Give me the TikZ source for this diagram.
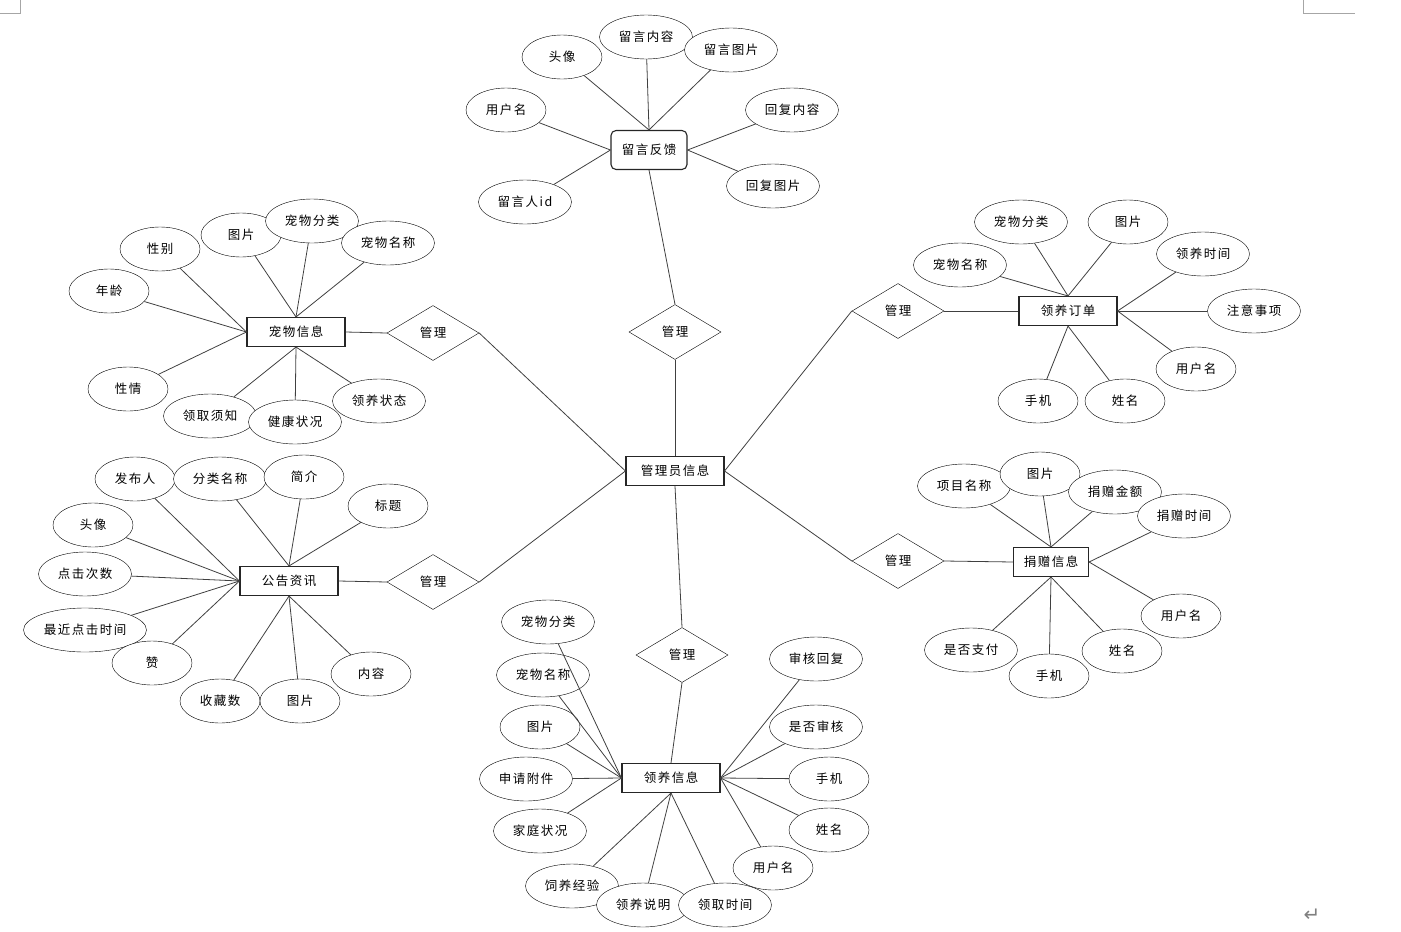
\documentclass[tikz,border=0pt]{standalone}
\usepackage{fontspec}
\setmainfont{Noto Sans CJK SC}[LetterSpace=12]
\newfontfamily\retmark{DejaVu Sans}
\usepackage{tikz}
\usetikzlibrary{shapes.geometric}

\begin{document}
\begin{tikzpicture}[x=1pt, y=-1pt,
  every node/.style={font=\fontsize{12.5}{14}\selectfont},
  ent/.style={draw=black!85, line width=1.1pt, fill=white, minimum width=98, minimum height=29, inner sep=0pt},
  attr/.style={draw, ellipse, fill=white, minimum width=80, minimum height=44, inner sep=0pt},
  attrw/.style={attr, minimum width=93},
  rel/.style={draw, diamond, fill=white, minimum width=92, minimum height=55, inner sep=0pt},
  link/.style={draw=black!75, line width=0.8pt}]
\useasboundingbox (0,0) rectangle (1401,932);
\draw[gray!70] (0,13) -- (20,13) -- (20,0);
\draw[gray!70] (1303,0) -- (1303,13) -- (1355,13);
\node[text=gray, font=\retmark\fontsize{20}{20}\selectfont] (ret) at (1312,915) {↵};

\node[ent] (adm) at (675,471) {管理员信息};
\node[ent, rounded corners=5pt, minimum width=76, minimum height=39] (ly) at (649,150) {留言反馈};
\node[ent] (cw) at (296,332) {宠物信息};
\node[ent] (dd) at (1068,311) {领养订单};
\node[ent] (gg) at (289,581) {公告资讯};
\node[ent, minimum width=75] (jz) at (1051,562) {捐赠信息};
\node[ent] (lx) at (671,778) {领养信息};

\node[rel] (m1) at (675,332) {管理};
\node[rel] (m2) at (433,333) {管理};
\node[rel] (m3) at (898,311) {管理};
\node[rel] (m4) at (433,582) {管理};
\node[rel] (m5) at (898,561) {管理};
\node[rel] (m6) at (682,655) {管理};

\node[attr] (ly1) at (562,57) {头像};
\node[attrw] (ly2) at (646,37) {留言内容};
\node[attrw] (ly3) at (731,50) {留言图片};
\node[attr] (ly4) at (506,110) {用户名};
\node[attrw] (ly5) at (792,110) {回复内容};
\node[attrw] (ly6) at (773,186) {回复图片};
\node[attrw] (ly7) at (525,202) {留言人id};

\node[attr] (cw1) at (160,249) {性别};
\node[attr] (cw2) at (241,235) {图片};
\node[attrw] (cw3) at (312,221) {宠物分类};
\node[attrw] (cw4) at (388,243) {宠物名称};
\node[attr] (cw5) at (109,291) {年龄};
\node[attr] (cw6) at (128,389) {性情};
\node[attrw] (cw7) at (210,416) {领取须知};
\node[attrw] (cw8) at (295,422) {健康状况};
\node[attrw] (cw9) at (379,401) {领养状态};

\node[attrw] (dd1) at (1021,222) {宠物分类};
\node[attr] (dd2) at (1128,222) {图片};
\node[attrw] (dd3) at (960,265) {宠物名称};
\node[attrw] (dd4) at (1203,254) {领养时间};
\node[attrw] (dd5) at (1254,311) {注意事项};
\node[attr] (dd6) at (1196,369) {用户名};
\node[attr] (dd7) at (1038,401) {手机};
\node[attr] (dd8) at (1125,401) {姓名};

\node[attr] (gg1) at (135,479) {发布人};
\node[attrw] (gg2) at (220,479) {分类名称};
\node[attr] (gg3) at (304,477) {简介};
\node[attr] (gg4) at (388,506) {标题};
\node[attr] (gg5) at (93,525) {头像};
\node[attrw] (gg6) at (85,574) {点击次数};
\node[attr, minimum width=123] (gg7) at (85,630) {最近点击时间};
\node[attr] (gg8) at (152,663) {赞};
\node[attr] (gg9) at (220,701) {收藏数};
\node[attr] (gg10) at (300,701) {图片};
\node[attr] (gg11) at (371,674) {内容};

\node[attrw] (jz1) at (964,486) {项目名称};
\node[attr] (jz2) at (1040,474) {图片};
\node[attrw] (jz3) at (1115,492) {捐赠金额};
\node[attrw] (jz4) at (1184,516) {捐赠时间};
\node[attr] (jz5) at (1181,616) {用户名};
\node[attr] (jz6) at (1122,651) {姓名};
\node[attr] (jz7) at (1049,676) {手机};
\node[attrw] (jz8) at (971,650) {是否支付};

\node[attrw] (lx1) at (548,622) {宠物分类};
\node[attrw] (lx2) at (543,675) {宠物名称};
\node[attr] (lx3) at (540,727) {图片};
\node[attrw] (lx4) at (526,779) {申请附件};
\node[attrw] (lx5) at (540,831) {家庭状况};
\node[attrw] (lx6) at (572,886) {饲养经验};
\node[attrw] (lx7) at (643,905) {领养说明};
\node[attrw] (lx8) at (725,905) {领取时间};
\node[attr] (lx9) at (773,868) {用户名};
\node[attr] (lx10) at (829,830) {姓名};
\node[attr] (lx11) at (829,779) {手机};
\node[attrw] (lx12) at (816,727) {是否审核};
\node[attrw] (lx13) at (816,659) {审核回复};

\draw[link] (ly.south) -- (m1.north);
\draw[link] (m1.south) -- (adm.north);
\draw[link] (cw.east) -- (m2.west);
\draw[link] (m2.east) -- (adm.west);
\draw[link] (m3.east) -- (dd.west);
\draw[link] (m3.west) -- (adm.east);
\draw[link] (gg.east) -- (m4.west);
\draw[link] (m4.east) -- (adm.west);
\draw[link] (m5.east) -- (jz.west);
\draw[link] (m5.west) -- (adm.east);
\draw[link] (adm.south) -- (m6.north);
\draw[link] (m6.south) -- (lx.north);

\draw[link] (ly.north) -- (ly1);
\draw[link] (ly.north) -- (ly2);
\draw[link] (ly.north) -- (ly3);
\draw[link] (ly.west) -- (ly4);
\draw[link] (ly.east) -- (ly5);
\draw[link] (ly.east) -- (ly6);
\draw[link] (ly.west) -- (ly7);

\draw[link] (cw.west) -- (cw1);
\draw[link] (cw.north) -- (cw2);
\draw[link] (cw.north) -- (cw3);
\draw[link] (cw.north) -- (cw4);
\draw[link] (cw.west) -- (cw5);
\draw[link] (cw.west) -- (cw6);
\draw[link] (cw.south) -- (cw7);
\draw[link] (cw.south) -- (cw8);
\draw[link] (cw.south) -- (cw9);

\draw[link] (dd.north) -- (dd1);
\draw[link] (dd.north) -- (dd2);
\draw[link] (dd.north) -- (dd3);
\draw[link] (dd.east) -- (dd4);
\draw[link] (dd.east) -- (dd5);
\draw[link] (dd.east) -- (dd6);
\draw[link] (dd.south) -- (dd7);
\draw[link] (dd.south) -- (dd8);

\draw[link] (gg.west) -- (gg1);
\draw[link] (gg.north) -- (gg2);
\draw[link] (gg.north) -- (gg3);
\draw[link] (gg.north) -- (gg4);
\draw[link] (gg.west) -- (gg5);
\draw[link] (gg.west) -- (gg6);
\draw[link] (gg.west) -- (gg7);
\draw[link] (gg.west) -- (gg8);
\draw[link] (gg.south) -- (gg9);
\draw[link] (gg.south) -- (gg10);
\draw[link] (gg.south) -- (gg11);

\draw[link] (jz.north) -- (jz1);
\draw[link] (jz.north) -- (jz2);
\draw[link] (jz.north) -- (jz3);
\draw[link] (jz.east) -- (jz4);
\draw[link] (jz.east) -- (jz5);
\draw[link] (jz.south) -- (jz6);
\draw[link] (jz.south) -- (jz7);
\draw[link] (jz.south) -- (jz8);

\draw[link] (lx.west) -- (lx1);
\draw[link] (lx.west) -- (lx2);
\draw[link] (lx.west) -- (lx3);
\draw[link] (lx.west) -- (lx4);
\draw[link] (lx.west) -- (lx5);
\draw[link] (lx.south) -- (lx6);
\draw[link] (lx.south) -- (lx7);
\draw[link] (lx.south) -- (lx8);
\draw[link] (lx.east) -- (lx9);
\draw[link] (lx.east) -- (lx10);
\draw[link] (lx.east) -- (lx11);
\draw[link] (lx.east) -- (lx12);
\draw[link] (lx.east) -- (lx13);
\end{tikzpicture}
\end{document}
